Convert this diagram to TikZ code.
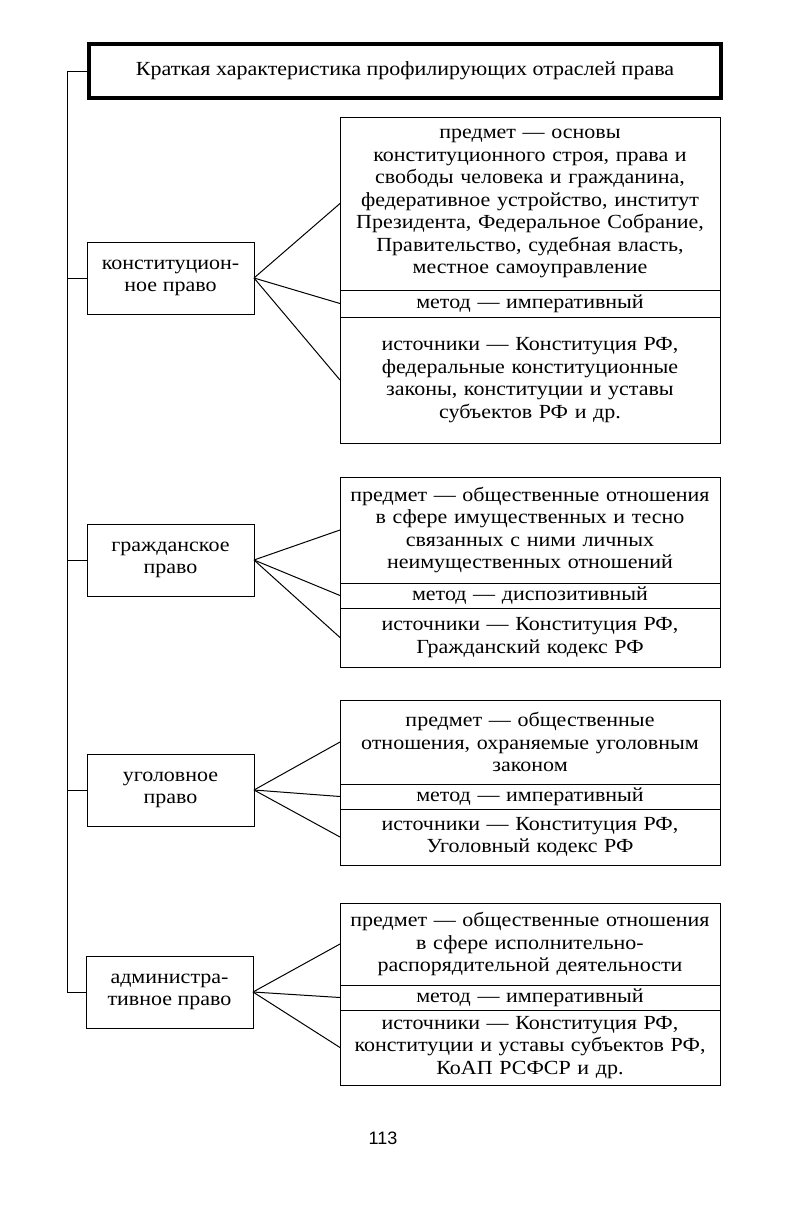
\documentclass[tikz,border=0pt]{standalone}
\usepackage{fontspec}
\setmainfont{Liberation Serif}[FakeStretch=1.1]
\setsansfont{Liberation Sans}
\usetikzlibrary{positioning}

\begin{document}
\begin{tikzpicture}[x=1pt,y=-1pt,node distance=0pt,
  txt/.style={font=\fontsize{20}{22.5}\selectfont},
  heading/.style={draw,line width=3.5pt,minimum width=632pt,minimum height=54pt,txt},
  branch/.style={draw,line width=1pt,minimum width=167pt,minimum height=72pt,align=center,inner sep=2pt,outer sep=0pt,txt},
  part/.style={draw,line width=1pt,text width=374pt,inner xsep=3pt,inner ysep=0pt,align=center,outer sep=0pt,txt}]
\useasboundingbox (0,0) rectangle (797,1232);
\node[heading] (title) at (405,71) {Краткая характеристика профилирующих отраслей права};
% left boxes
\node[branch] (konst) at (170.5,278) {конституцион-\\ное право};
\node[branch] (grazh) at (170.5,560) {гражданское\\право};
\node[branch] (ugol) at (170.5,790) {уголовное\\право};
\node[branch] (admin) at (169.5,992) {администра-\\тивное право};
% right boxes
\node[part,anchor=north west,minimum height=173pt] (konst-p) at (340,117) {предмет — основы\\конституционного строя, права и\\свободы человека и гражданина,\\федеративное устройство, институт\\Президента, Федеральное Собрание,\\Правительство, судебная власть,\\местное самоуправление};
\node[part,minimum height=27pt] (konst-m) [below=of konst-p] {метод — императивный};
\node[part,minimum height=126pt] (konst-i) [below=of konst-m] {источники — Конституция РФ,\\федеральные конституционные\\законы, конституции и уставы\\субъектов РФ и др.};
\node[part,anchor=north west,minimum height=106pt] (grazh-p) at (340,477) {предмет — общественные отношения\\в сфере имущественных и тесно\\связанных с ними личных\\неимущественных отношений};
\node[part,minimum height=25pt] (grazh-m) [below=of grazh-p] {метод — диспозитивный};
\node[part,minimum height=59pt] (grazh-i) [below=of grazh-m] {источники — Конституция РФ,\\Гражданский кодекс РФ};
\node[part,anchor=north west,minimum height=84pt] (ugol-p) at (340,700) {предмет — общественные\\отношения, охраняемые уголовным\\законом};
\node[part,minimum height=25pt] (ugol-m) [below=of ugol-p] {метод — императивный};
\node[part,minimum height=56pt] (ugol-i) [below=of ugol-m] {источники — Конституция РФ,\\Уголовный кодекс РФ};
\node[part,anchor=north west,minimum height=82pt] (admin-p) at (340,903) {предмет — общественные отношения\\в сфере исполнительно-\\распорядительной деятельности};
\node[part,minimum height=25pt] (admin-m) [below=of admin-p] {метод — императивный};
\node[part,minimum height=75pt] (admin-i) [below=of admin-m] {источники — Конституция РФ,\\конституции и уставы субъектов РФ,\\КоАП РСФСР и др.};
% fans
\path[-,line width=1pt] (konst.east) edge (konst-p.west) (konst.east) edge (konst-m.west) (konst.east) edge (konst-i.west)
  (grazh.east) edge (grazh-p.west) (grazh.east) edge (grazh-m.west) (grazh.east) edge (grazh-i.west)
  (ugol.east) edge (ugol-p.west) (ugol.east) edge (ugol-m.west) (ugol.east) edge (ugol-i.west)
  (admin.east) edge (admin-p.west) (admin.east) edge (admin-m.west) (admin.east) edge (admin-i.west);
% spine
\coordinate (spine) at (67,992);
\draw[line width=1pt] (title.west) -| (spine) -- (admin.west);
\draw[line width=1pt] (konst.west) -- (konst.west -| spine) (grazh.west) -- (grazh.west -| spine) (ugol.west) -- (ugol.west -| spine);
\node[font=\sffamily\fontsize{18}{20}\selectfont] (page) at (383,1138) {113};
\end{tikzpicture}
\end{document}
